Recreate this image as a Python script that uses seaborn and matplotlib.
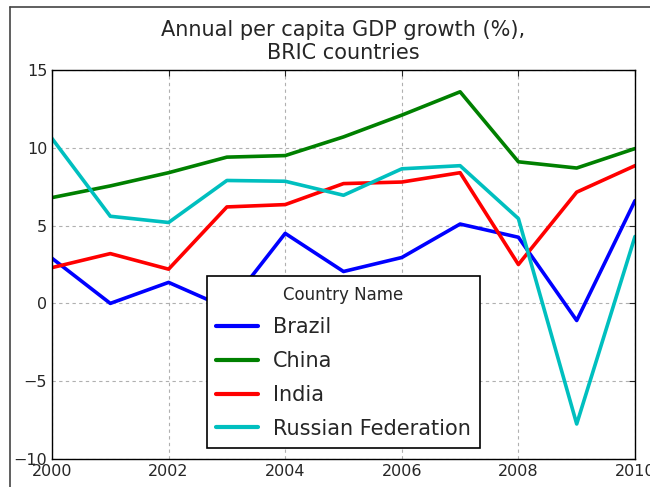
import pandas as pd
import matplotlib
matplotlib.use("Agg")
import matplotlib.pyplot as plt
from matplotlib.lines import Line2D
import seaborn as sns

# -----------------------------
# Data
# -----------------------------
years = [2000, 2001, 2002, 2003, 2004, 2005, 2006, 2007, 2008, 2009, 2010]
countries = ["Brazil", "China", "India", "Russian Federation"]
brazil = [2.9, 0.0, 1.35, -0.3, 4.5, 2.05, 2.95, 5.1, 4.25, -1.1, 6.6]
china = [6.8, 7.55, 8.4, 9.4, 9.5, 10.7, 12.1, 13.6, 9.1, 8.7, 9.95]
india = [2.3, 3.2, 2.2, 6.2, 6.35, 7.7, 7.8, 8.4, 2.5, 7.15, 8.85]
russia = [10.6, 5.6, 5.2, 7.9, 7.85, 6.95, 8.65, 8.85, 5.45, -7.75, 4.3]

COLORS = ["#0000ff", "#008000", "#ff0000", "#00bfbf"]


def build_frame():
    series = [brazil, china, india, russia]
    rows = []
    for name, vals in zip(countries, series):
        for yr, v in zip(years, vals):
            rows.append({"Year": yr, "Country Name": name, "Growth": v})
    return pd.DataFrame(rows)


def main():
    df = build_frame()

    sns.set_style("white")
    plt.rcParams["font.family"] = ["DejaVu Sans"]

    W, H = 650, 487
    fig = plt.figure(figsize=(6.5, 4.87), dpi=100)
    # axes box: x 52..635, y 70..459 (pixels from top-left)
    ax = fig.add_axes([52 / W, (H - 459) / H, (635 - 52) / W, (459 - 70) / H])

    # screenshot frame around the figure (left + top edges visible)
    fig.add_artist(Line2D([10 / W, 10 / W], [0, 1 - 7 / H], color="#444444",
                          linewidth=1.2, transform=fig.transFigure))
    fig.add_artist(Line2D([10 / W, 1], [1 - 7 / H, 1 - 7 / H], color="#444444",
                          linewidth=1.2, transform=fig.transFigure))

    sns.lineplot(data=df, x="Year", y="Growth", hue="Country Name",
                 hue_order=countries, palette=COLORS, linewidth=2.6, ax=ax)

    ax.set_xlim(2000, 2010)
    ax.set_ylim(-10, 15)
    ax.set_xticks([2000, 2002, 2004, 2006, 2008, 2010])
    ax.set_yticks([-10, -5, 0, 5, 10, 15])
    ax.set_xlabel("")
    ax.set_ylabel("")
    ax.tick_params(labelsize=11.5, direction="in", length=4, top=True, right=True)
    ax.grid(True, linestyle="--", color="#b0b0b0", linewidth=0.8, dashes=(3, 3))
    for sp in ax.spines.values():
        sp.set_color("black")
        sp.set_linewidth(1.0)

    ax.set_title("Annual per capita GDP growth (%),\nBRIC countries",
                 fontsize=15, pad=8, linespacing=1.15)

    leg = ax.legend(title="Country Name", loc="lower center",
                    bbox_to_anchor=(0.5, 0.028), borderaxespad=0,
                    fontsize=15, title_fontsize=12, fancybox=False,
                    framealpha=1, edgecolor="black", handlelength=2.0,
                    borderpad=0.45, labelspacing=0.66, handletextpad=0.7)
    leg.get_frame().set_linewidth(1.2)
    for line in leg.get_lines():
        line.set_linewidth(3)

    fig.savefig("out.png", dpi=100)


if __name__ == "__main__":
    main()
